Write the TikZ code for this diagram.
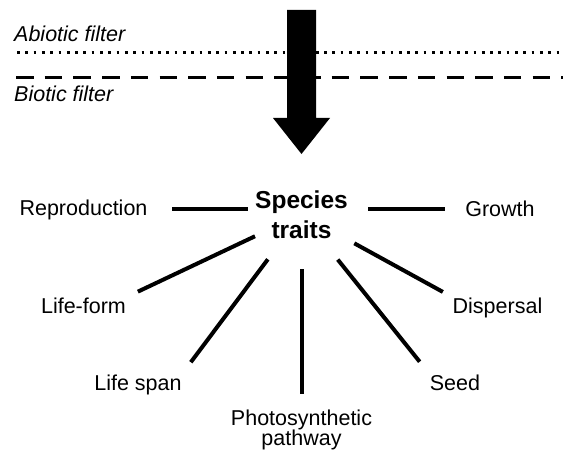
\documentclass[tikz,border=0pt]{standalone}
\usepackage{fontspec}
\setmainfont{Liberation Sans}
\usepackage{xcolor}
\usepackage{tikz}
\definecolor{trInk}{HTML}{000000}
\tikzset{
  tr diagram/.style={x=1pt, y=-1pt, text=trInk},
  tr label/.style={font=\fontsize{21.5}{20.5}\selectfont, inner sep=0pt},
  tr key/.style={tr label, font=\fontsize{24.5}{30}\selectfont\bfseries},
  tr filter label/.style={tr label, font=\fontsize{21.5}{24}\selectfont\itshape},
  tr link/.style={draw=trInk, line width=4pt},
  tr abiotic/.style={draw=trInk, line width=3pt, dash pattern=on 2.7pt off 5.6pt},
  tr biotic/.style={draw=trInk, line width=3.5pt, dash pattern=on 17.5pt off 11.2pt},
  tr arrow/.style={fill=trInk}
}
\begin{document}
\begin{tikzpicture}[tr diagram]
\useasboundingbox (0,0) rectangle (563,452);
% filters
\node[tr filter label, anchor=base west] (abiotic) at (14,42) {Abiotic filter};
\node[tr filter label, anchor=base west] (biotic) at (14,102) {Biotic filter};
\draw[tr abiotic] (17,53) -- (563,53);
\draw[tr biotic] (16,77.5) -- (563,77.5);
\fill[tr arrow] (287,10) -- (316,10) -- (316,118) -- (330,118) -- (301.5,154)
  -- (273,118) -- (287,118) -- cycle;
% traits
\node[tr key, align=center] (traits) at (301.5,214.3) {Species\\traits};
\node[tr label, anchor=base] (reproduction) at (83.5,215) {Reproduction};
\node[tr label, anchor=base] (growth) at (500,216.5) {Growth};
\node[tr label, anchor=base] (lifeform) at (83.5,313) {Life-form};
\node[tr label, anchor=base] (dispersal) at (497.5,313) {Dispersal};
\node[tr label, anchor=base] (lifespan) at (138,390) {Life span};
\node[tr label, anchor=base] (seed) at (455,390) {Seed};
\node[tr label, align=center] (photo) at (301.5,429.7) {Photosynthetic\\pathway};
\draw[tr link, shorten <=24.5pt, shorten >=7pt] (reproduction.east) -- (reproduction.east -| traits.west);
\draw[tr link, shorten <=20pt, shorten >=20pt] (traits.east |- growth.west) -- (growth.west);
\draw[tr link, shorten >=13pt] (traits) -- (lifeform.north east);
\draw[tr link, shorten <=26pt, shorten >=15pt] (traits) -- (lifespan.north east);
\draw[tr link, shorten <=31pt, shorten >=15.5pt] (traits) -- (photo);
\draw[tr link, shorten <=27pt, shorten >=16pt] (traits) -- (seed.north west);
\draw[tr link, shorten <=10pt, shorten >=11pt] (traits) -- (dispersal.north west);
\end{tikzpicture}
\end{document}
